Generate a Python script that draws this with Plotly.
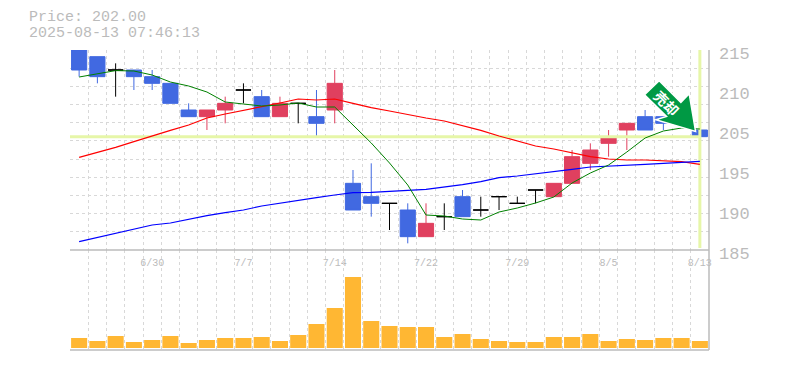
import plotly.graph_objects as go

dates = ["", "", "", "", "6/30", "", "", "", "", "7/7", "", "", "", "", "7/14", "", "", "", "", "7/22",
         "", "", "", "", "7/29", "", "", "", "", "8/5", "", "", "", "", "8/13"]
opens = [215, 214, 212, 212, 211, 210, 206, 205, 206, 209, 208, 205, 207, 205, 206, 195, 193, 192, 191, 187,
         190, 193, 191, 193, 192, 194, 193, 195, 198, 201, 203, 205, 205, 205, 203]
highs = [215, 214, 213, 212, 212, 210, 207, 206, 208, 210, 209, 208, 207, 209, 212, 197, 198, 192, 192, 192,
         192, 194, 193, 193, 193, 194, 195, 200, 201, 203, 204, 206, 205, 205, 205]
lows = [211, 210, 208, 209, 209, 207, 205, 203, 204, 207, 205, 205, 204, 202, 204, 191, 190, 188, 186, 187,
        188, 190, 190, 191, 192, 192, 193, 195, 197, 199, 200, 203, 203, 204, 202]
closes = [212, 211, 212, 211, 210, 207, 205, 206, 207, 209, 205, 207, 207, 204, 210, 191, 192, 192, 187, 189,
          190, 190, 191, 193, 192, 194, 195, 199, 200, 202, 204, 203, 204, 204, 202]
ma5 = [210.95, 211.4, 211.91, 211.85, 211.25, 210.2, 209.6, 208.7, 207.2, 206.9, 206.6, 206.75, 207.05, 206.45,
       206.45, 203.75, 201.05, 198.05, 194.75, 190.25, 190.1, 189.65, 189.5, 190.7, 191.3, 192.05, 192.95, 195.05,
       196.55, 197.75, 199.7, 201.8, 202.85, 203.3, 203.15]
ma25 = [198.9, 199.6, 200.4, 201.25, 202.15, 202.95, 203.75, 204.8, 205.4, 205.9, 206.5, 207.05, 207.65, 207.5,
        207.65, 207.0, 206.35, 205.85, 205.3, 204.8, 204.35, 203.65, 202.95, 202.1, 201.35, 200.6, 200.15, 199.55,
        199.0, 198.65, 198.5, 198.5, 198.35, 198.25, 197.85]
ma75 = [186.25, 186.9, 187.55, 188.15, 188.75, 189.05, 189.65, 190.15, 190.6, 191.0, 191.6, 192.05, 192.5, 192.85,
        193.25, 193.6, 193.65, 193.85, 193.95, 194.1, 194.4, 194.8, 195.25, 195.85, 196.1, 196.4, 196.7, 197.1,
        197.45, 197.55, 197.7, 197.85, 198.0, 198.15, 198.3]
volumes = [10, 7, 12, 6, 8, 12, 5, 8, 10, 10, 11, 7, 13, 24, 40, 71, 27, 22, 21, 21, 11, 14, 9, 7, 6, 6, 11, 11,
           14, 7, 9, 8, 10, 10, 7]
y_tick_values = [215, 209, 203, 197, 191, 185]
y_tick_labels = ["215", "210", "205", "195", "190", "185"]
last_price = 202
title_lines = ["Price: 202.00", "2025-08-13 07:46:13"]
signal_text = "売却"

GREY = "#bbbbbb"
GRID = "#d8d8d8"
MONO = "Liberation Mono, DejaVu Sans Mono, monospace"
HILITE = "#e6f6a8"

n = len(closes)
xs = list(range(n))
x_bounds = [i - 0.5 for i in range(n + 1)]
y_top, y_bottom = y_tick_values[0], y_tick_values[-1]
y_grid = [y_bottom + (y_top - y_bottom) * i / 11 for i in range(12)]

fig = go.Figure()


def pick(cond):
    idx = [i for i in xs if cond(i)]
    return dict(x=idx, open=[opens[i] for i in idx], high=[highs[i] for i in idx],
                low=[lows[i] for i in idx], close=[closes[i] for i in idx])


fig.add_trace(go.Scatter(x=[x_bounds[0], xs[-1]], y=[last_price, last_price], mode="lines",
                         line=dict(color=HILITE, width=3), hoverinfo="skip"))
fig.add_trace(go.Scatter(x=[xs[-1], xs[-1]], y=[y_top, y_bottom + 0.3], mode="lines",
                         line=dict(color=HILITE, width=3), hoverinfo="skip"))
for values, color, width in [(ma25, "#ff0000", 1.2), (ma75, "#0000ff", 1.2), (ma5, "#008000", 1)]:
    fig.add_trace(go.Scatter(x=xs, y=values, mode="lines", line=dict(color=color, width=width)))

for cond, color in [(lambda i: closes[i] > opens[i], "#e0405f"),
                    (lambda i: closes[i] < opens[i], "#4169e1"),
                    (lambda i: closes[i] == opens[i], "#000000")]:
    fig.add_trace(go.Candlestick(
        **pick(cond), whiskerwidth=0,
        increasing=dict(line=dict(color=color, width=1), fillcolor=color),
        decreasing=dict(line=dict(color=color, width=1), fillcolor=color)))

fig.add_trace(go.Bar(x=xs, y=volumes, marker=dict(color="#ffb733", line=dict(width=0)),
                     width=0.88, xaxis="x2", yaxis="y2"))

for line, offset in zip(title_lines, [32.5, 16.5]):
    fig.add_annotation(text=line, xref="paper", yref="paper", x=-43 / 639.5, y=1 + offset / 300,
                       xanchor="left", yanchor="middle", showarrow=False,
                       font=dict(family=MONO, size=15, color=GREY))

fig.update_layout(
    width=785, height=370, margin=dict(l=70, r=75.5, t=50, b=20, pad=0, autoexpand=False),
    paper_bgcolor="white", plot_bgcolor="white", showlegend=False,
    boxmode="overlay", boxgap=0.17, boxgroupgap=0,
    xaxis=dict(domain=[0, 1], anchor="y", range=[-0.5, n - 0.5], tickmode="array", tickvals=xs, ticktext=dates,
               ticks="", showgrid=False, zeroline=False, rangeslider=dict(visible=False), automargin=False,
               tickfont=dict(family=MONO, size=10, color=GREY), ticklabelstandoff=5,
               minor=dict(tickmode="array", tickvals=x_bounds, showgrid=True, gridcolor=GRID, griddash="3px,3px",
                          gridwidth=1, ticks=""),
               showline=False),
    yaxis=dict(domain=[1 / 3, 1], anchor="x", side="right", range=[y_bottom, y_top], tickmode="array",
               tickvals=y_tick_values, ticktext=y_tick_labels, ticks="", showgrid=False, zeroline=False,
               automargin=False,
               tickfont=dict(family=MONO, size=17, color=GREY), ticklabelstandoff=9, ticklabelshift=3,
               minor=dict(tickmode="array", tickvals=y_grid, showgrid=True, gridcolor=GRID, griddash="3px,3px",
                          gridwidth=1, ticks="")),
    xaxis2=dict(domain=[0, 1], anchor="y2", range=[-0.5, n - 0.5], showticklabels=False, ticks="", showgrid=False,
                zeroline=False, automargin=False,
                minor=dict(tickmode="array", tickvals=x_bounds, showgrid=True, gridcolor=GRID, griddash="3px,3px",
                           gridwidth=1, ticks="")),
    yaxis2=dict(domain=[0, 1 / 3], anchor="x2", range=[-2, 98], showticklabels=False, ticks="", showgrid=False,
                zeroline=False, automargin=False),
    shapes=[
        dict(type="line", xref="paper", yref="paper", x0=0, x1=1, y0=1 / 3, y1=1 / 3,
             line=dict(color=GREY, width=1.5)),
        dict(type="line", xref="paper", yref="paper", x0=0, x1=1, y0=0, y1=0, line=dict(color=GREY, width=1.5)),
        dict(type="line", xref="paper", yref="paper", x0=1, x1=1, y0=0, y1=1, line=dict(color=GREY, width=1.5)),
        dict(type="path", xref="x", yref="y", xsizemode="pixel", ysizemode="pixel", xanchor=34, yanchor=202,
             path="M -4.3 5.3 L -10.7 43 L -19 34.3 L -40.7 56 L -55.3 42 L -33.3 20.3 L -44 17 Z",
             line=dict(color="white", width=1.5), fillcolor="#009944"),
    ],
)
fig.add_annotation(text=signal_text, xref="x", yref="y", x=34, y=202, xshift=-33, yshift=34, showarrow=False,
                   textangle=45, font=dict(family="Noto Sans CJK JP", size=14, color="white", weight="bold"))

fig.write_html("out.html", post_script="document.body.style.margin='0';", config=dict(displayModeBar=False))
